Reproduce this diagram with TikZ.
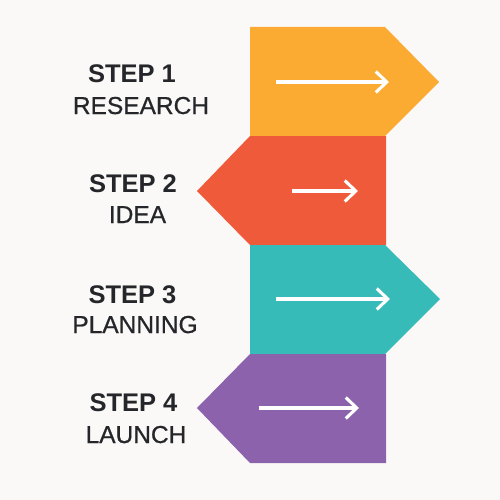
\documentclass[tikz,border=0pt]{standalone}
\usepackage{fontspec}
\setmainfont{Liberation Sans}
\newfontfamily\labelfont[FakeBold=0.7]{Liberation Sans}
\usetikzlibrary{arrows.meta}
\definecolor{bg}{HTML}{FAF9F7}
\definecolor{cOrange}{HTML}{FBAB32}
\definecolor{cRed}{HTML}{EF5A3A}
\definecolor{cTeal}{HTML}{36BBB8}
\definecolor{cPurple}{HTML}{8C62AC}
\definecolor{txt}{HTML}{25262A}
\begin{document}
\begin{tikzpicture}[x=1pt,y=-1pt,
  steptitle/.style={anchor=base,text=txt,inner sep=0pt,font=\fontsize{25.5}{28}\selectfont\bfseries},
  steplabel/.style={anchor=base,text=txt,inner sep=0pt,font=\labelfont\fontsize{24.5}{28}\selectfont},
  inarrow/.style={draw=white,line width=3.1pt,-{Straight Barb[length=11pt,width=21pt,line width=3.1pt]}}]
\fill[bg] (0,0) rectangle (500,500);
\useasboundingbox (0,0) rectangle (500,500);
% shapes
\fill[cOrange] (250,27) -- (385,27) -- (439,82) -- (385,136) -- (250,136) -- cycle;
\fill[cRed] (250,136) -- (386,136) -- (386,245) -- (250,245) -- (197,191) -- cycle;
\fill[cTeal] (250,245) -- (385,245) -- (440,299) -- (385,354) -- (250,354) -- cycle;
\fill[cPurple] (250,354) -- (386,354) -- (386,463) -- (250,463) -- (197,408) -- cycle;
% arrows
\coordinate (a1s) at (276,82);  \coordinate (a1e) at (389,82);
\coordinate (a2s) at (292,191); \coordinate (a2e) at (358,191);
\coordinate (a3s) at (276,299); \coordinate (a3e) at (390,299);
\coordinate (a4s) at (259,408); \coordinate (a4e) at (359,408);
\draw[inarrow] (a1s) -- (a1e);
\draw[inarrow] (a2s) -- (a2e);
\draw[inarrow] (a3s) -- (a3e);
\draw[inarrow] (a4s) -- (a4e);
% texts
\node[steptitle] (t1) at (132,83) {STEP 1};
\node[steplabel] (l1) at (141,114) {RESEARCH};
\node[steptitle] (t2) at (133,192) {STEP 2};
\node[steplabel] (l2) at (137.5,223) {IDEA};
\node[steptitle] (t3) at (132.5,303) {STEP 3};
\node[steplabel] (l3) at (135,333) {PLANNING};
\node[steptitle] (t4) at (133.5,411) {STEP 4};
\node[steplabel] (l4) at (136,443) {LAUNCH};
\end{tikzpicture}
\end{document}
